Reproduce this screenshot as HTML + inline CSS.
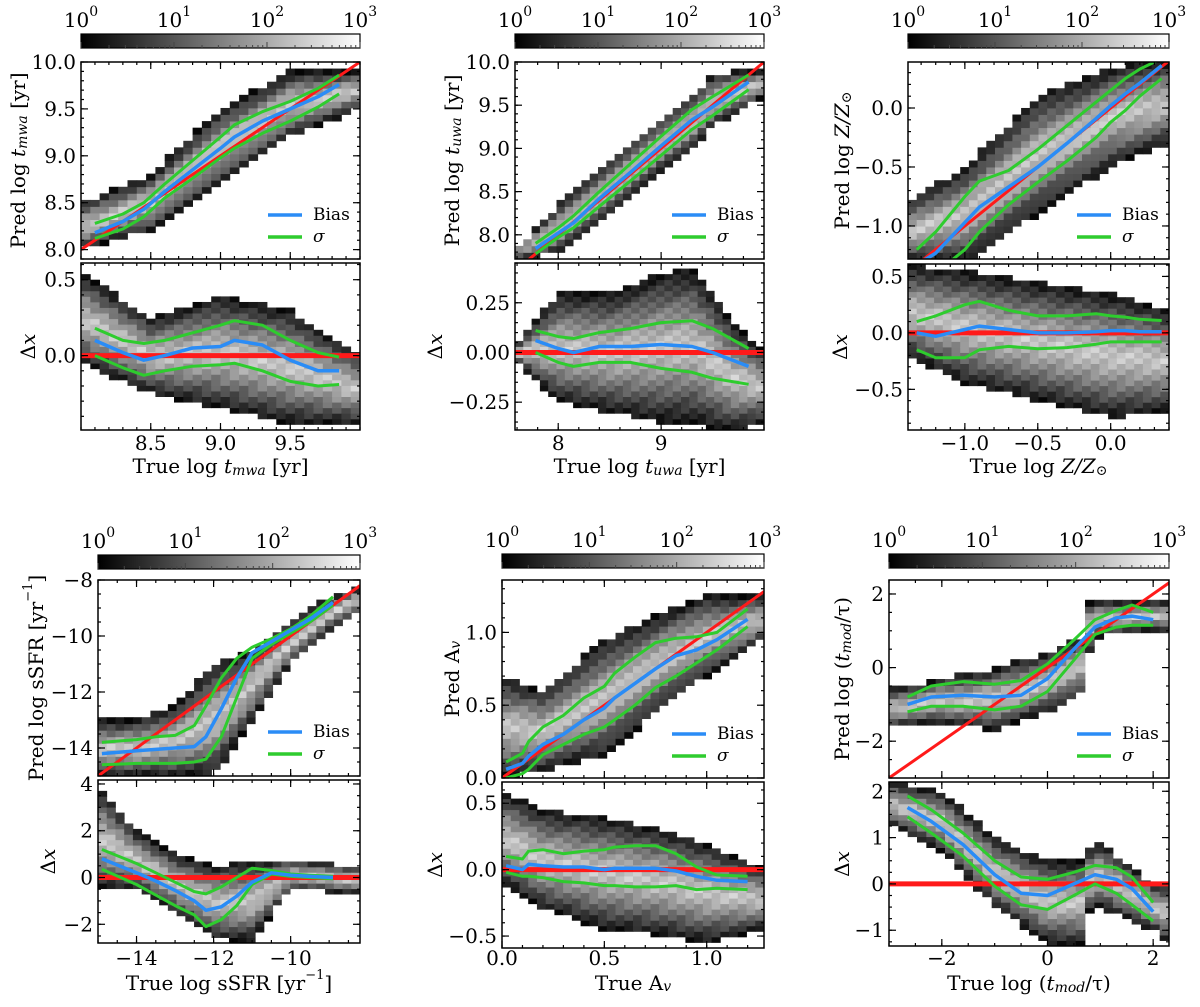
<!DOCTYPE html>
<html><head><meta charset="utf-8"><style>
html,body{margin:0;padding:0;background:#fff;}
svg{display:block;font-family:"DejaVu Serif","Liberation Serif",serif;}
</style></head><body>
<svg id="fig" width="1200" height="1007" viewBox="0 0 1200 1007" xmlns="http://www.w3.org/2000/svg">
<defs><linearGradient id="cbg" x1="0" x2="1" y1="0" y2="0"><stop offset="0" stop-color="#000"/><stop offset="1" stop-color="#fff"/></linearGradient></defs>
</svg>
<script>
// ---------- Panel 1: t_mwa ----------
const p1x=[8.1,8.3,8.45,8.6,8.8,9.0,9.1,9.3,9.5,9.7,9.85];
const p1Bias=[8.18,8.3,8.43,8.62,8.85,9.08,9.2,9.37,9.5,9.63,9.76];
const p1Up=[8.28,8.38,8.5,8.7,8.95,9.2,9.33,9.47,9.58,9.72,9.86];
const p1Lo=[8.12,8.22,8.35,8.55,8.76,8.98,9.08,9.24,9.37,9.52,9.66];
const p1rBias=[0.1,0.02,-0.03,0.0,0.05,0.06,0.1,0.07,-0.03,-0.1,-0.1];
const p1rUp=[0.18,0.1,0.08,0.1,0.15,0.2,0.23,0.2,0.1,0.02,-0.01];
const p1rLo=[0.0,-0.08,-0.13,-0.1,-0.07,-0.06,-0.05,-0.1,-0.17,-0.2,-0.19];
const p1hx=[8.0,8.5,9.0,9.5,10.0];
const p1hLo=[8.0,8.2,8.7,9.2,9.5];
const p1hHi=[8.5,8.8,9.5,9.9,9.9];
const p1rhLo=[-0.05,-0.25,-0.35,-0.45,-0.45];
const p1rhHi=[0.55,0.25,0.4,0.3,0.0];
// ---------- Panel 2: t_uwa ----------
const p2x=[7.78,8.0,8.15,8.4,8.7,9.0,9.3,9.5,9.85];
const p2Bias=[7.84,8.02,8.14,8.42,8.72,9.03,9.33,9.48,9.77];
const p2Up=[7.9,8.08,8.22,8.5,8.82,9.14,9.45,9.6,9.85];
const p2Lo=[7.78,7.97,8.08,8.33,8.62,8.92,9.22,9.38,9.68];
const p2rBias=[0.06,0.02,0.0,0.03,0.03,0.04,0.03,0.0,-0.07];
const p2rUp=[0.11,0.08,0.07,0.1,0.12,0.15,0.16,0.12,0.02];
const p2rLo=[0.0,-0.05,-0.07,-0.05,-0.05,-0.08,-0.1,-0.13,-0.16];
const p2hx=[7.6,8.0,8.5,9.0,9.3,9.5,9.7,10.0];
const p2hLo=[7.72,7.8,8.25,8.75,9.0,9.25,9.4,9.6];
const p2hHi=[7.85,8.35,8.85,9.35,9.6,9.85,9.9,9.9];
const p2rhLo=[-0.05,-0.25,-0.3,-0.35,-0.35,-0.38,-0.4,-0.35];
const p2rhHi=[0.05,0.3,0.3,0.4,0.42,0.3,0.15,0.0];
// ---------- Panel 3: Z ----------
const p3x=[-1.33,-1.2,-1.0,-0.9,-0.7,-0.5,-0.3,-0.1,0.0,0.1,0.2,0.35];
const p3Bias=[-1.33,-1.23,-0.97,-0.84,-0.67,-0.5,-0.3,-0.09,0.02,0.12,0.21,0.36];
const p3Up=[-1.2,-1.05,-0.75,-0.62,-0.53,-0.35,-0.15,0.05,0.15,0.25,0.33,0.42];
const p3Lo=[-1.45,-1.4,-1.2,-1.05,-0.82,-0.63,-0.45,-0.25,-0.12,-0.02,0.1,0.25];
const p3rBias=[0.0,-0.03,0.03,0.06,0.03,0.0,0.0,0.01,0.02,0.02,0.01,0.01];
const p3rUp=[0.1,0.15,0.25,0.28,0.2,0.15,0.15,0.17,0.15,0.14,0.12,0.11];
const p3rLo=[-0.15,-0.22,-0.22,-0.15,-0.12,-0.14,-0.13,-0.1,-0.08,-0.08,-0.08,-0.08];
const p3hx=[-1.4,-1.0,-0.5,0.0,0.4];
const p3hLo=[-1.3,-1.3,-0.9,-0.5,-0.3];
const p3hHi=[-0.8,-0.5,0.1,0.35,0.4];
const p3rhLo=[-0.2,-0.45,-0.6,-0.75,-0.7];
const p3rhHi=[0.6,0.55,0.45,0.35,0.2];
// ---------- Panel 4: sSFR ----------
const p4x=[-14.9,-14,-13.5,-13,-12.5,-12.2,-11.8,-11.4,-11,-10.5,-10,-9.5,-8.9];
const p4Bias=[-14.2,-14.1,-14.05,-14.0,-13.95,-13.6,-12.6,-11.5,-10.6,-10.2,-9.8,-9.4,-8.8];
const p4Up=[-13.8,-13.7,-13.6,-13.55,-13.2,-12.5,-11.5,-10.8,-10.4,-10.1,-9.75,-9.3,-8.6];
const p4Lo=[-14.6,-14.55,-14.55,-14.55,-14.5,-14.4,-13.6,-12.2,-10.8,-10.3,-9.9,-9.5,-8.9];
const p4rBias=[0.8,0.2,-0.15,-0.55,-1.0,-1.4,-1.25,-0.8,-0.2,0.2,0.1,0.05,0.0];
const p4rUp=[1.2,0.6,0.2,-0.2,-0.6,-0.7,-0.4,0.0,0.4,0.3,0.15,0.1,0.05];
const p4rLo=[0.35,-0.3,-0.75,-1.2,-1.6,-2.1,-1.8,-1.2,-0.3,0.15,0.05,0.0,-0.05];
const p4hx=[-15,-14,-13,-12,-11.5,-11,-10,-9,-8.3];
const p4hLo=[-15,-15,-15,-15,-14,-13,-11,-9.8,-9.2];
const p4hHi=[-13,-13,-12.5,-11,-10.8,-10.5,-9.5,-8.6,-8.3];
const p4rhLo=[-0.5,-0.5,-1.5,-2.6,-2.7,-2.7,-0.5,-0.6,-0.7];
const p4rhHi=[4,2,1,0.5,0.6,0.7,0.8,0.6,0.5];
// ---------- Panel 5: Av ----------
const p5x=[0.02,0.1,0.13,0.2,0.3,0.4,0.5,0.55,0.65,0.75,0.85,0.95,1.05,1.2];
const p5Bias=[0.06,0.1,0.15,0.23,0.3,0.4,0.48,0.55,0.65,0.75,0.84,0.88,0.95,1.09];
const p5Up=[0.11,0.17,0.25,0.35,0.43,0.55,0.63,0.72,0.83,0.93,0.96,0.97,1.0,1.16];
const p5Lo=[0.0,0.03,0.06,0.16,0.23,0.3,0.35,0.4,0.5,0.62,0.7,0.79,0.88,1.04];
const p5rBias=[0.03,0.0,0.04,0.03,0.02,0.02,0.0,0.01,0.01,0.01,-0.01,-0.05,-0.08,-0.09];
const p5rUp=[0.1,0.08,0.14,0.15,0.12,0.14,0.15,0.17,0.18,0.18,0.12,0.02,-0.04,-0.05];
const p5rLo=[-0.02,-0.05,-0.05,-0.06,-0.09,-0.1,-0.12,-0.12,-0.13,-0.13,-0.12,-0.15,-0.14,-0.15];
const p5hx=[0.0,0.2,0.5,0.8,1.0,1.28];
const p5hLo=[0.0,0.05,0.15,0.5,0.7,0.95];
const p5hHi=[0.7,0.6,0.95,1.15,1.25,1.25];
const p5rhLo=[-0.1,-0.3,-0.45,-0.5,-0.55,-0.45];
const p5rhHi=[0.6,0.45,0.4,0.3,0.2,0.0];
// ---------- Panel 6: t_mod/tau ----------
const p6x=[-2.65,-2.2,-1.6,-1.0,-0.5,0.0,0.5,0.9,1.3,1.6,2.0];
const p6Bias=[-1.0,-0.8,-0.75,-0.8,-0.75,-0.3,0.5,1.1,1.35,1.4,1.3];
const p6Up=[-0.8,-0.5,-0.38,-0.45,-0.35,0.1,0.75,1.3,1.55,1.7,1.5];
const p6Lo=[-1.2,-1.05,-1.05,-1.15,-1.05,-0.65,0.2,0.9,1.1,1.15,1.15];
const p6rBias=[1.65,1.35,0.85,0.2,-0.2,-0.25,0.0,0.2,0.1,-0.1,-0.6];
const p6rUp=[1.9,1.6,1.1,0.5,0.15,0.1,0.25,0.4,0.35,0.15,-0.4];
const p6rLo=[1.45,1.1,0.6,-0.05,-0.45,-0.55,-0.25,0.0,-0.2,-0.45,-0.8];
const p6hx=[-3,-2,-1,0,0.7,0.8,1,2,2.3];
const p6hLo=[-1.6,-1.5,-1.7,-1.2,-0.7,0.5,0.9,1.0,1.0];
const p6hHi=[-0.6,-0.3,0.0,0.4,0.9,1.8,1.8,1.8,1.8];
const p6rhLo=[1.3,0.7,-0.5,-1.3,-1.3,-0.6,-0.5,-1.0,-1.3];
const p6rhHi=[2.2,2.0,1.0,0.5,0.5,0.8,0.9,0.0,0.0];
// colorbar tick labels
const cbExp=["0","1","2","3"];

const NS="http://www.w3.org/2000/svg";
const svg=document.getElementById('fig');
function el(tag,attrs,parent){const e=document.createElementNS(NS,tag);for(const k in attrs)e.setAttribute(k,attrs[k]);(parent||svg).appendChild(e);return e;}
function interp(xs,ys,x){if(x<=xs[0])return ys[0];for(let i=1;i<xs.length;i++){if(x<=xs[i]){const t=(x-xs[i-1])/(xs[i]-xs[i-1]);return ys[i-1]+t*(ys[i]-ys[i-1]);}}return ys[ys.length-1];}
function fmt(v,d){const s=Math.abs(v).toFixed(d);return (v<-1e-9?'\u2212':'')+s;}

const panels=[
 {id:1,x0:81,x1:360,cbY:34,m:[62,259],r:[263,430],xr:[8.0,10.0],yr:[7.9,10.0],rr:[-0.49,0.61],xt:[8.5,9.0,9.5],xd:1,xm:0.1,yt:[8.0,8.5,9.0,9.5,10.0],yd:1,ym:0.1,rt:[0.0,0.5],rd:1,rm:0.1,
  x:p1x,b:p1Bias,u:p1Up,l:p1Lo,rb:p1rBias,ru:p1rUp,rl:p1rLo,hx:p1hx,hl:p1hLo,hh:p1hHi,rhl:p1rhLo,rhh:p1rhHi,
  yl:['Pred log ','t','mwa',' [yr]'],xl:['True log ','t','mwa',' [yr]'],ylx:18,dlx:28,row:0},
 {id:2,x0:515,x1:764,cbY:34,m:[62,259],r:[263,430],xr:[7.58,10.0],yr:[7.72,10.0],rr:[-0.39,0.45],xt:[8,9],xd:0,xm:0.2,yt:[8.0,8.5,9.0,9.5,10.0],yd:1,ym:0.1,rt:[-0.25,0.0,0.25],rd:2,rm:0.05,
  x:p2x,b:p2Bias,u:p2Up,l:p2Lo,rb:p2rBias,ru:p2rUp,rl:p2rLo,hx:p2hx,hl:p2hLo,hh:p2hHi,rhl:p2rhLo,rhh:p2rhHi,
  yl:['Pred log ','t','uwa',' [yr]'],xl:['True log ','t','uwa',' [yr]'],ylx:452,dlx:435,row:0},
 {id:3,x0:908,x1:1169,cbY:34,m:[62,259],r:[264,430],xr:[-1.39,0.40],yr:[-1.28,0.39],rr:[-0.86,0.61],xt:[-1.0,-0.5,0.0],xd:1,xm:0.1,yt:[-1.0,-0.5,0.0],yd:1,ym:0.1,rt:[-0.5,0.0,0.5],rd:1,rm:0.1,
  x:p3x,b:p3Bias,u:p3Up,l:p3Lo,rb:p3rBias,ru:p3rUp,rl:p3rLo,hx:p3hx,hl:p3hLo,hh:p3hHi,rhl:p3rhLo,rhh:p3rhHi,
  yl:['Pred log ','Z/Z','\u2299',''],xl:['True log ','Z/Z','\u2299',''],zsun:true,ylx:842,dlx:840,row:0},
 {id:4,x0:98,x1:360,cbY:555,m:[580,776],r:[780,943],xr:[-15.0,-8.2],yr:[-15.0,-8.0],rr:[-2.8,4.17],xt:[-14,-12,-10],xd:0,xm:0.5,yt:[-14,-12,-10,-8],yd:0,ym:0.5,rt:[-2,0,2,4],rd:0,rm:0.5,
  x:p4x,b:p4Bias,u:p4Up,l:p4Lo,rb:p4rBias,ru:p4rUp,rl:p4rLo,hx:p4hx,hl:p4hLo,hh:p4hHi,rhl:p4rhLo,rhh:p4rhHi,
  yl:['Pred log sSFR [yr','\u22121',']'],xl:['True log sSFR [yr','\u22121',']'],sup:true,ylx:36,dlx:48,row:1},
 {id:5,x0:502,x1:764,cbY:554,m:[580,778],r:[782,948],xr:[0.0,1.28],yr:[0.0,1.36],rr:[-0.59,0.66],xt:[0.0,0.5,1.0],xd:1,xm:0.1,yt:[0.0,0.5,1.0],yd:1,ym:0.1,rt:[-0.5,0.0,0.5],rd:1,rm:0.1,
  x:p5x,b:p5Bias,u:p5Up,l:p5Lo,rb:p5rBias,ru:p5rUp,rl:p5rLo,hx:p5hx,hl:p5hLo,hh:p5hHi,rhl:p5rhLo,rhh:p5rhHi,
  yl:['Pred A','v',''],xl:['True A','v',''],av:true,ylx:452,dlx:435,row:1},
 {id:6,x0:889,x1:1169,cbY:554,m:[580,778],r:[782,946],xr:[-3.0,2.3],yr:[-3.0,2.38],rr:[-1.34,2.2],xt:[-2,0,2],xd:0,xm:0.5,yt:[-2,0,2],yd:0,ym:0.5,rt:[-1,0,1,2],rd:0,rm:0.25,
  x:p6x,b:p6Bias,u:p6Up,l:p6Lo,rb:p6rBias,ru:p6rUp,rl:p6rLo,hx:p6hx,hl:p6hLo,hh:p6hHi,rhl:p6rhLo,rhh:p6rhHi,
  yl:['Pred log (','t','mod','/\u03C4)'],xl:['True log (','t','mod','/\u03C4)'],ylx:842,dlx:842,row:1}
];

function addLabel(p,parent,parts,attrs){
  const t=el('text',Object.assign({'font-size':20,fill:'#000','text-anchor':'middle','dominant-baseline':'central'},attrs),parent);
  const add=(s,o)=>{const ts=el('tspan',o||{},t);ts.textContent=s;return ts;};
  if(p.sup){add(parts[0]);add(parts[1],{'font-size':13,dy:-8});add(parts[2],{dy:8});}
  else if(p.av){add(parts[0]);add(parts[1],{'font-size':14,'font-style':'italic',dy:4});}
  else if(p.zsun){add(parts[0]);add(parts[1],{'font-style':'italic'});add(parts[2],{'font-size':14,dy:5});}
  else{add(parts[0]);add(parts[1],{'font-style':'italic'});add(parts[2],{'font-size':14,'font-style':'italic',dy:5});add(parts[3],{dy:-5});}
  return t;
}

function drawAxes(p,g,yA,yB,ydom,yt,yd,ym,showX){
  const W=p.x1-p.x0;
  const sx=v=>p.x0+(v-p.xr[0])/(p.xr[1]-p.xr[0])*W;
  const sy=v=>yB-(v-ydom[0])/(ydom[1]-ydom[0])*(yB-yA);
  return {sx,sy,finish:()=>{
    const tg=el('g',{stroke:'#000','stroke-width':1.2},g);
    
    for(let v=Math.ceil(p.xr[0]/p.xm)*p.xm;v<=p.xr[1];v+=p.xm){const x=sx(v);el('line',{x1:x,x2:x,y1:yB,y2:yB-3},tg);el('line',{x1:x,x2:x,y1:yA,y2:yA+3},tg);}
    for(let v=Math.ceil(ydom[0]/ym)*ym;v<=ydom[1];v+=ym){const y=sy(v);el('line',{x1:p.x0,x2:p.x0+3,y1:y,y2:y},tg);el('line',{x1:p.x1,x2:p.x1-3,y1:y,y2:y},tg);}
    p.xt.forEach(v=>{const x=sx(v);el('line',{x1:x,x2:x,y1:yB,y2:yB-7},tg);el('line',{x1:x,x2:x,y1:yA,y2:yA+7},tg);
      if(showX){const t=el('text',{x:x,y:p.row?958:443,'font-size':20,'text-anchor':'middle','dominant-baseline':'central',stroke:'none',fill:'#000'},g);t.textContent=fmt(v,p.xd);}});
    yt.forEach(v=>{const y=sy(v);el('line',{x1:p.x0,x2:p.x0+7,y1:y,y2:y},tg);el('line',{x1:p.x1,x2:p.x1-7,y1:y,y2:y},tg);
      const t=el('text',{x:p.x0-5,y:y,'font-size':20,'text-anchor':'end','dominant-baseline':'central',fill:'#000'},g);t.textContent=fmt(v,yd);});
    const fr=el('rect',{x:p.x0,y:yA,width:W,height:yB-yA,fill:'none',stroke:'#000','stroke-width':1.5},g);
    
  }};
}

function heat(g,p,ax,yA,yB,ydom,lo,hi){
  const nx=30,ny=30,W=p.x1-p.x0,H=yB-yA;
  const cw=W/nx,ch=H/ny;
  const hg=el('g',{},g);
  for(let i=0;i<nx;i++){
    const xv=p.xr[0]+(i+0.5)/nx*(p.xr[1]-p.xr[0]);
    if(xv<p.hx[0]-0.02||xv>p.hx[p.hx.length-1]+0.02)continue;
    const a=interp(p.hx,lo,xv),b=interp(p.hx,hi,xv),mid=(a+b)/2,half=Math.max((b-a)/2,1e-6);
    for(let j=0;j<ny;j++){
      const yv=ydom[0]+(j+0.5)/ny*(ydom[1]-ydom[0]);
      if(yv<a||yv>b)continue;
      const d=Math.min(1,Math.abs(yv-mid)/half);
      let gv=Math.round(200-185*Math.pow(d,1.2)+((i*7+j*13)%5-2)*9);
      gv=Math.max(5,Math.min(225,gv));
      const r=el('rect',{x:(p.x0+i*cw).toFixed(2),y:(yB-(j+1)*ch).toFixed(2),width:(cw+0.4).toFixed(2),height:(ch+0.4).toFixed(2),fill:`rgb(${gv},${gv},${gv})`},hg);
      
      
    }
  }
}

function line(g,xs,ys,sx,sy,color,w,name){
  const d=xs.map((x,i)=>(i?'L':'M')+sx(x).toFixed(1)+','+sy(ys[i]).toFixed(1)).join(' ');
  const pth=el('path',{d:d,fill:'none',stroke:color,'stroke-width':w,'stroke-linejoin':'round'},g);
  
}

const BLUE='#2a8cf6',GREEN='#2ecc2e',RED='#ff1a1a';
panels.forEach(p=>{
  const g=el('g',{});
  const W=p.x1-p.x0;
  const cb=el('rect',{x:p.x0,y:p.cbY,width:W,height:14,fill:'url(#cbg)',stroke:'#000','stroke-width':1.2},g);
  
  for(let k=0;k<3;k++){for(let m=2;m<=9;m++){const x=p.x0+(k+Math.log10(m))/3*W;el('line',{x1:x,x2:x,y1:p.cbY+14,y2:p.cbY+11,stroke:'#444','stroke-width':1},g);}}
  cbExp.forEach((e,k)=>{const x=p.x0+k/3*W;el('line',{x1:x,x2:x,y1:p.cbY+14,y2:p.cbY+8,stroke:'#444','stroke-width':1},g);
    const t=el('text',{x:x,y:p.cbY-14,'font-size':20,'text-anchor':'middle','dominant-baseline':'central'},g);
    
    const a=el('tspan',{},t);a.textContent='10';const b=el('tspan',{'font-size':14,dy:-8},t);b.textContent=e;});
  const mA=drawAxes(p,g,p.m[0],p.m[1],p.yr,p.yt,p.yd,p.ym,false);
  const mg=el('g',{},g);
  const cp='clip'+p.id;const c=el('clipPath',{id:cp},svg);el('rect',{x:p.x0,y:p.m[0],width:W,height:p.m[1]-p.m[0]},c);
  mg.setAttribute('clip-path','url(#'+cp+')');
  heat(mg,p,mA,p.m[0],p.m[1],p.yr,p.hl,p.hh);
  line(mg,[p.xr[0],p.xr[1]],[p.xr[0],p.xr[1]],mA.sx,mA.sy,RED,3,'one-to-one-line');
  line(mg,p.x,p.u,mA.sx,mA.sy,GREEN,3,'sigma-upper');
  line(mg,p.x,p.l,mA.sx,mA.sy,GREEN,3,'sigma-lower');
  line(mg,p.x,p.b,mA.sx,mA.sy,BLUE,3.5,'bias-line');
  mA.finish();
  const lg=el('g',{},g);
  const ly1=p.m[1]-44,ly2=p.m[1]-22;
  el('line',{x1:p.x1-92,x2:p.x1-58,y1:ly1,y2:ly1,stroke:BLUE,'stroke-width':3.5},lg);
  el('line',{x1:p.x1-92,x2:p.x1-58,y1:ly2,y2:ly2,stroke:GREEN,'stroke-width':3.5},lg);
  const t1=el('text',{x:p.x1-47,y:ly1,'font-size':17,'dominant-baseline':'central'},lg);t1.textContent='Bias';
  
  const t2=el('text',{x:p.x1-47,y:ly2,'font-size':17,'font-style':'italic','dominant-baseline':'central'},lg);t2.textContent='\u03C3';
  
  const rA=drawAxes(p,g,p.r[0],p.r[1],p.rr,p.rt,p.rd,p.rm,true);
  const rg=el('g',{},g);
  const cp2='rclip'+p.id;const c2=el('clipPath',{id:cp2},svg);el('rect',{x:p.x0,y:p.r[0],width:W,height:p.r[1]-p.r[0]},c2);
  rg.setAttribute('clip-path','url(#'+cp2+')');
  heat(rg,p,rA,p.r[0],p.r[1],p.rr,p.rhl,p.rhh);
  line(rg,[p.xr[0],p.xr[1]],[0,0],rA.sx,rA.sy,RED,5,'zero-line');
  line(rg,p.x,p.ru,rA.sx,rA.sy,GREEN,3,'residual-sigma-upper');
  line(rg,p.x,p.rl,rA.sx,rA.sy,GREEN,3,'residual-sigma-lower');
  line(rg,p.x,p.rb,rA.sx,rA.sy,BLUE,3.5,'residual-bias-line');
  rA.finish();
  const ym=(p.m[0]+p.m[1])/2;
  const yl=addLabel(p,g,p.yl,{transform:`translate(${p.ylx},${ym}) rotate(-90)`,x:0,y:0});
  
  const rmid=(p.r[0]+p.r[1])/2;
  const dl=el('text',{transform:`translate(${p.dlx},${rmid}) rotate(-90)`,'font-size':20,'text-anchor':'middle','dominant-baseline':'central'},g);
  
  const d1=el('tspan',{},dl);d1.textContent='\u0394';const d2=el('tspan',{'font-style':'italic'},dl);d2.textContent='x';
  const xl=addLabel(p,g,p.xl,{x:(p.x0+p.x1)/2,y:p.row?983:466});
  
});
</script>
</body></html>
